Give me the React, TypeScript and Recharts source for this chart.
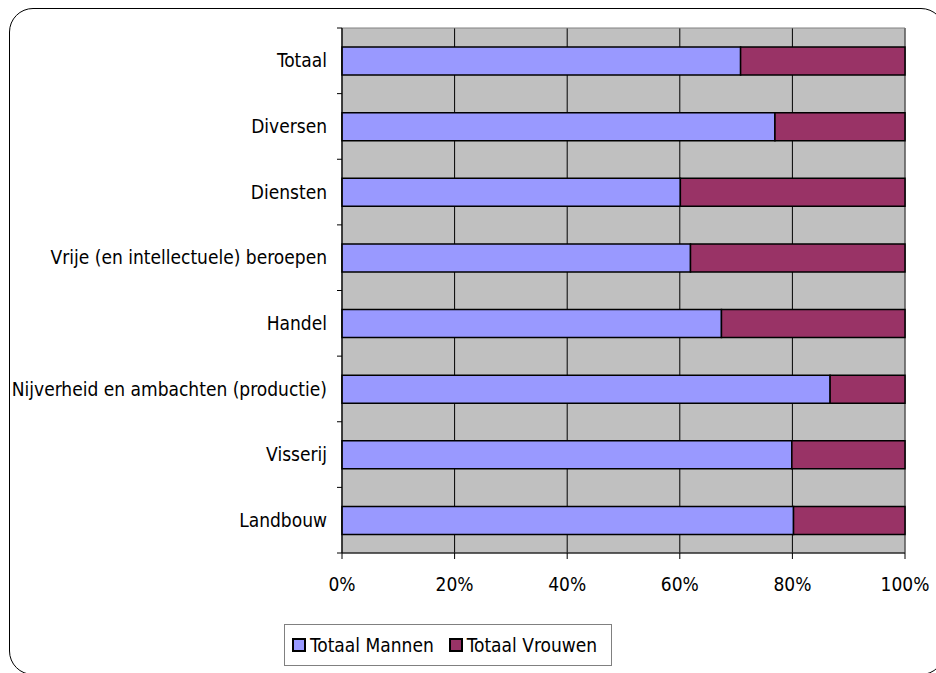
import { BarChart, Bar, XAxis, YAxis, CartesianGrid, Legend, ReferenceArea } from "recharts";

const categories = [
  "Totaal",
  "Diversen",
  "Diensten",
  "Vrije (en intellectuele) beroepen",
  "Handel",
  "Nijverheid en ambachten (productie)",
  "Visserij",
  "Landbouw",
];

// share in percent
const mannen = [70.8, 76.9, 60.1, 61.9, 67.4, 86.7, 79.9, 80.2];
const vrouwen = [29.2, 23.1, 39.9, 38.1, 32.6, 13.3, 20.1, 19.8];

const xTicks = [0, 20, 40, 60, 80, 100];

const data = categories.map((name, i) => ({
  name,
  mannen: mannen[i],
  vrouwen: vrouwen[i],
}));

const FONT = "'DejaVu Sans Condensed', 'DejaVu Sans', sans-serif";
const FS = 19;
const W = 936;
const H = 673;
const X_HEIGHT = 40;
const LEGEND_H = 42;
const margin = { top: 28, right: 31, left: 0, bottom: 38 };
const Y_WIDTH = 342;
const plotHeight = H - margin.top - margin.bottom - X_HEIGHT - LEGEND_H;
const band = plotHeight / categories.length;

function CategoryTick(props: any) {
  const { x, y, payload, index } = props;
  // recharts passes x already shifted by tickSize + tickMargin (6 + 2)
  const ax = x + 8;
  const isLast = index === categories.length - 1;
  return (
    <g>
      <line x1={ax - 5} x2={ax} y1={y - band / 2} y2={y - band / 2} stroke="#000" />
      {isLast && <line x1={ax - 5} x2={ax} y1={y + band / 2} y2={y + band / 2} stroke="#000" />}
      <text x={ax - 15} y={y} dy="0.35em" textAnchor="end" fontSize={FS} fill="#000" fontFamily={FONT}>
        {payload.value}
      </text>
    </g>
  );
}

function LegendBox() {
  const items = [
    { label: "Totaal Mannen", color: "#9999FF" },
    { label: "Totaal Vrouwen", color: "#993366" },
  ];
  return (
    <div
      style={{
        display: "flex",
        alignItems: "center",
        border: "1px solid #808080",
        background: "#fff",
        height: LEGEND_H,
        width: 328,
        boxSizing: "border-box",
        padding: "0 0 0 7px",
        fontFamily: FONT,
        fontSize: FS,
        color: "#000",
        whiteSpace: "nowrap",
      }}
    >
      {items.map((it) => (
        <div key={it.label} style={{ display: "flex", alignItems: "center", marginRight: 15, flexShrink: 0 }}>
          <span
            style={{
              display: "inline-block",
              width: 14,
              height: 14,
              boxSizing: "border-box",
              background: it.color,
              border: "2px solid #000",
              marginRight: 4,
              flexShrink: 0,
            }}
          />
          <span>{it.label}</span>
        </div>
      ))}
    </div>
  );
}

export default function App() {
  return (
    <div style={{ position: "absolute", left: 0, top: 0, width: W, height: H, background: "#fff", overflow: "hidden" }}>
      <div
        style={{
          position: "absolute",
          left: 9,
          top: 8,
          width: 936,
          height: 667,
          border: "1.5px solid #000",
          borderRadius: 24,
          boxSizing: "border-box",
        }}
      />
      <div style={{ position: "absolute", left: 0, top: 0 }}>
        <BarChart
          width={W}
          height={H}
          data={data}
          layout="vertical"
          margin={margin}
          barSize={28}
        >
          <CartesianGrid fill="#C0C0C0" stroke="#000" horizontal={false} />
          <ReferenceArea x1={0} x2={100} fill="none" stroke="#808080" />
          <XAxis
            type="number"
            domain={[0, 100]}
            ticks={xTicks}
            tickFormatter={(v: number) => `${v}%`}
            height={X_HEIGHT}
            tickSize={6}
            tickMargin={19}
            stroke="#000"
            tick={{ fill: "#000", fontSize: FS, fontFamily: FONT }}
          />
          <YAxis
            type="category"
            dataKey="name"
            width={Y_WIDTH}
            tickLine={false}
            stroke="#000"
            interval={0}
            tick={<CategoryTick />}
          />
          <Legend
            content={<LegendBox />}
            wrapperStyle={{ position: "absolute", left: 284, top: 624, width: 328, height: LEGEND_H }}
          />
          <Bar dataKey="mannen" name="Totaal Mannen" stackId="a" fill="#9999FF" stroke="#000" strokeWidth={1.5} isAnimationActive={false} />
          <Bar dataKey="vrouwen" name="Totaal Vrouwen" stackId="a" fill="#993366" stroke="#000" strokeWidth={1.5} isAnimationActive={false} />
        </BarChart>
      </div>
    </div>
  );
}
